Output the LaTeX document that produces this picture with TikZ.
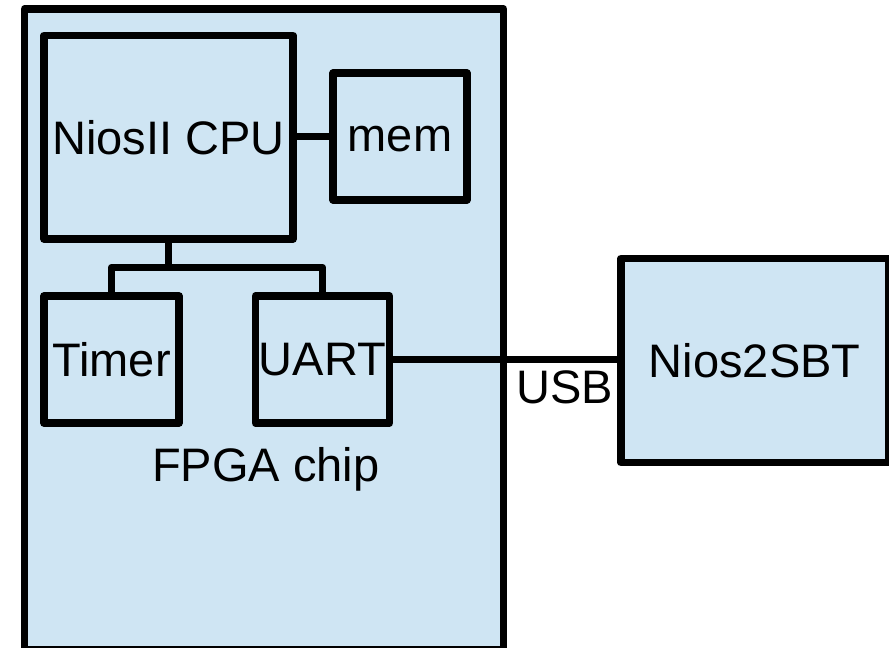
\documentclass[tikz,border=0pt]{standalone}
\usepackage{fontspec}
\setmainfont{Liberation Sans}
\usetikzlibrary{calc}
\definecolor{boxblue}{RGB}{207,229,243}
\begin{document}
\begin{tikzpicture}[x=1pt,y=-1pt,
  blk/.style={draw=black,fill=boxblue,line width=7.5pt,line join=round,rectangle,inner sep=0pt,outer sep=0pt},
  conn/.style={draw=black,line width=7.5pt,line join=round},
  lbl/.style={inner sep=0pt,outer sep=0pt,font=\fontsize{47}{56}\selectfont}]
\useasboundingbox (0,0) rectangle (889,648);
\node[blk,minimum width=479pt,minimum height=641pt] (fpga) at (264,329.5) {};
\node[blk,lbl,minimum width=249pt,minimum height=203.5pt] (cpu) at (168.5,137.25) {NiosII CPU};
\node[blk,lbl,text height=30pt,minimum width=133.7pt,minimum height=127pt] (mem) at (400,136.5) {mem};
\node[blk,lbl,minimum width=135pt,minimum height=127pt] (timer) at (111.5,359.5) {Timer};
\node[blk,lbl,minimum width=134pt,minimum height=127pt] (uart) at (322.5,359.5) {UART};
\node[blk,lbl,minimum width=267.5pt,minimum height=204pt] (sbt) at (754.75,360.5) {Nios2SBT};
\node[lbl,anchor=base] (fpgalbl) at (265.8,481) {FPGA chip};
\node[lbl,anchor=base] (usb) at (565,403.3) {USB};
\coordinate (bus) at (0,267.5);
\draw[conn] (cpu.east |- mem.west) -- (mem.west);
\draw[conn] (cpu.south) -- (cpu.south |- bus);
\draw[conn] (timer.north) |- (uart.north |- bus) -- (uart.north);
\draw[conn] (uart.east) -- (uart.east -| sbt.west);
\end{tikzpicture}
\end{document}
